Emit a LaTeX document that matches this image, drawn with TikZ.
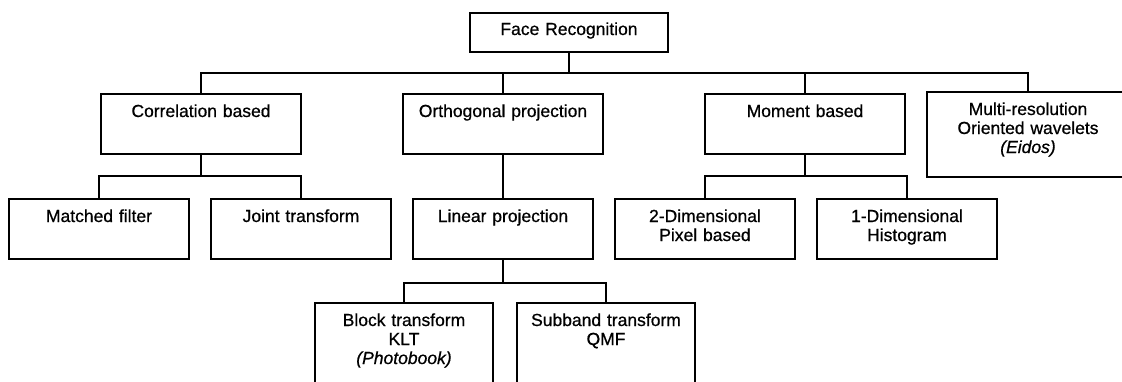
\documentclass[tikz,border=0pt]{standalone}
\usepackage{fontspec}
\newfontfamily\boxfont{Liberation Sans}[FakeBold=0.7, ItalicFeatures={FakeBold=0.7}]
\usetikzlibrary{positioning}

\begin{document}
\begin{tikzpicture}[x=1pt, y=-1pt,
    box/.style={draw, line width=2.6pt, anchor=north, inner sep=0pt, outer sep=0pt,
      align=center, text width=#1, text height=23pt, text depth=37pt,
      font=\boxfont\fontsize{17.5pt}{19pt}\selectfont},
    box/.default=180pt,
    busline/.style={to path={-- ++(0,#1) -| (\tikztotarget)}},
    busline/.default=22]
      \useasboundingbox (0,0) rectangle (1122,381);
      \clip (0,0) rectangle (1122,381);
      \begin{scope}
        \node (face) [box=198pt, text height=22pt, text depth=17pt] at (569,13) {Face Recognition};
        % first level
        \node (corr) [box=200pt] at (201,94) {Correlation based};
        \node (ortho) [box=200pt, right=102pt of corr] {Orthogonal projection};
        \node (moment) [box=200pt, right=102pt of ortho] {Moment based};
        \node (multi) [box=202pt, text depth=62pt] at (1028,92) {Multi-resolution\\Oriented wavelets\\\textit{(Eidos)}};
        % second level
        \node (match) [box] at (99,199) {Matched filter};
        \node (joint) [box, right=22pt of match] {Joint transform};
        \node (linear) [box, right=22pt of joint] {Linear projection};
        \node (twodim) [box, right=22pt of linear] {2-Dimensional\\Pixel based};
        \node (onedim) [box, right=22pt of twodim] {1-Dimensional\\Histogram};
        % third level
        \node (block) [box=178pt, text depth=77pt] at (404,303) {Block transform\\KLT\\\textit{(Photobook)}};
        \node (subband) [box=178pt, text depth=77pt, right=24pt of block] {Subband transform\\QMF};
      \end{scope}
      \begin{scope}[every edge/.style={draw, line width=2.6pt}]
        \path (face.south) edge[busline=21] (corr.north);
        \path (face.south) edge[busline=21] (ortho.north);
        \path (face.south) edge[busline=21] (moment.north);
        \path (face.south) edge[busline=21] (multi.north);
        \path (corr.south) edge[busline] (match.north);
        \path (corr.south) edge[busline] (joint.north);
        \path (ortho.south) edge (linear.north);
        \path (moment.south) edge[busline] (twodim.north);
        \path (moment.south) edge[busline] (onedim.north);
        \path (linear.south) edge[busline=24] (block.north);
        \path (linear.south) edge[busline=24] (subband.north);
      \end{scope}
    \end{tikzpicture}
\end{document}
